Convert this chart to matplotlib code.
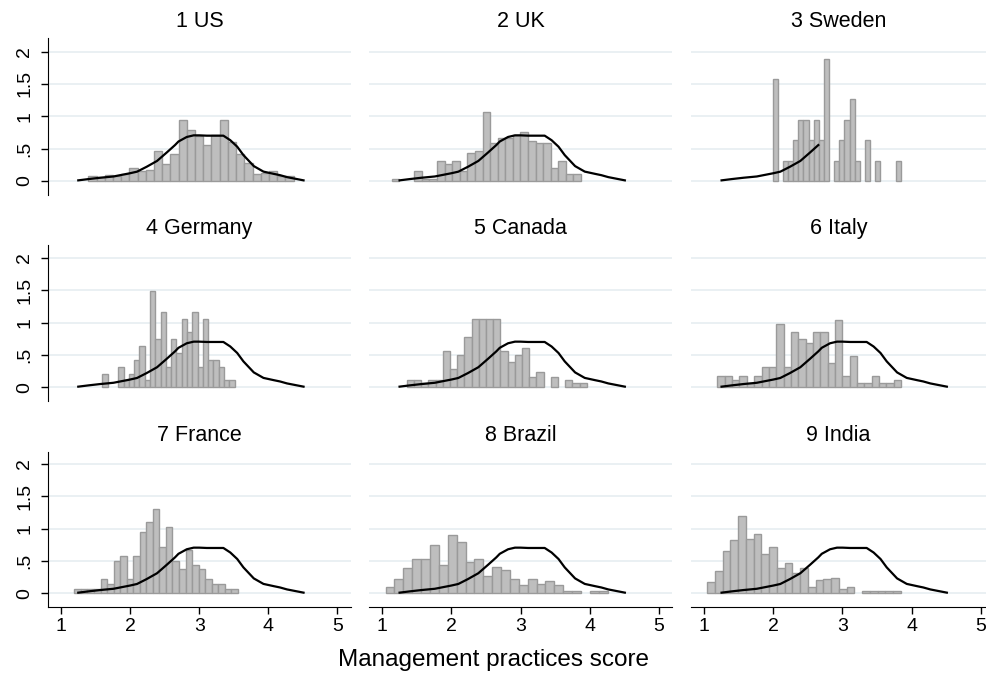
import numpy as np
import matplotlib
matplotlib.use('Agg')
import matplotlib.pyplot as plt

plt.rcParams['font.family'] = ['Liberation Sans', 'DejaVu Sans']

## the data
countries = ['1 US', '2 UK', '3 Sweden', '4 Germany', '5 Canada', '6 Italy',
             '7 France', '8 Brazil', '9 India']

# histogram bins per country: first edge and bin width
bin_start = [1.396, 1.135, 1.99, 1.599, 1.353, 1.19, 1.193, 1.048, 1.043]
bin_width = [0.1188, 0.1096, 0.0742, 0.0765, 0.1043, 0.1063, 0.0947, 0.1285, 0.112]

us = [0.08, 0.06, 0.09, 0.07, 0.11, 0.2, 0.15, 0.17, 0.47, 0.27, 0.41, 0.94, 0.78,
      0.69, 0.55, 0.71, 0.94, 0.61, 0.41, 0.28, 0.11, 0.13, 0.16, 0.08, 0.08]
uk = [0.035, 0, 0, 0.15, 0.035, 0.035, 0.31, 0.27, 0.31, 0.15, 0.43, 0.47, 1.06,
      0.58, 0.67, 0.67, 0.71, 0.75, 0.62, 0.58, 0.58, 0.2, 0.31, 0.11, 0.11]
sweden = [1.57, 0, 0.31, 0.31, 0.63, 0.94, 0.94, 0.63, 0.94, 0.63, 1.89, 0, 0.31,
          0.63, 0.94, 1.26, 0.31, 0, 0.63, 0, 0.31, 0, 0, 0, 0.31]
germany = [0.21, 0, 0, 0.32, 0.11, 0.21, 0.42, 0.64, 0.11, 1.49, 0.74, 1.17, 0.32,
           0.74, 0.53, 1.06, 0.85, 1.17, 0.32, 1.06, 0.42, 0.42, 0.32, 0.11, 0.11]
canada = [0.11, 0.11, 0.06, 0.11, 0.11, 0.56, 0.28, 0.5, 0.78, 1.05, 1.05, 1.05, 1.05,
          0.56, 0.39, 0.5, 0.61, 0.16, 0.23, 0, 0.16, 0, 0.11, 0.06, 0.06]
italy = [0.18, 0.18, 0.12, 0.18, 0.06, 0.18, 0.31, 0.31, 0.98, 0.31, 0.86, 0.74, 0.68,
         0.86, 0.86, 0.37, 1.04, 0.18, 0.49, 0.06, 0.06, 0.18, 0.06, 0.06, 0.12]
france = [0.07, 0.07, 0.07, 0.07, 0.22, 0.15, 0.5, 0.58, 0.22, 0.58, 0.95, 1.1, 1.3,
          0.72, 1.02, 0.5, 0.37, 0.67, 0.43, 0.37, 0.22, 0.15, 0.15, 0.07, 0.07]
brazil = [0.09, 0.22, 0.39, 0.53, 0.53, 0.74, 0.44, 0.9, 0.79, 0.49, 0.53, 0.27, 0.41,
          0.36, 0.22, 0.13, 0.22, 0.15, 0.19, 0.13, 0.03, 0.03, 0, 0.03, 0.03]
india = [0.18, 0.35, 0.65, 0.82, 1.2, 0.84, 0.91, 0.6, 0.71, 0.39, 0.47, 0.32, 0.39,
         0.09, 0.2, 0.22, 0.24, 0.07, 0.09, 0, 0.04, 0.04, 0.04, 0.04, 0.04]
heights = [us, uk, sweden, germany, canada, italy, france, brazil, india]

# US kernel density, drawn in every panel
dens_x = [1.25, 1.4, 1.565, 1.76, 2.0, 2.1, 2.24, 2.39, 2.53, 2.65, 2.7, 2.82, 2.92,
          3.0, 3.11, 3.25, 3.35, 3.45, 3.55, 3.64, 3.79, 3.93, 4.08, 4.17, 4.27, 4.51]
dens_y = [0.01, 0.03, 0.05, 0.07, 0.12, 0.144, 0.22, 0.31, 0.44, 0.555, 0.61, 0.68,
          0.705, 0.705, 0.70, 0.70, 0.70, 0.63, 0.53, 0.40, 0.23, 0.145, 0.11, 0.09,
          0.06, 0.01]
sweden_cut = 2.65   # the curve stops here in the Sweden panel

yticks = [0, 0.5, 1, 1.5, 2]
yticklabels = ['0', '.5', '1', '1.5', '2']
xticks = [1, 2, 3, 4, 5]

## layout in pixels
W, H = 986, 683
col_left = [48.3, 369.3, 690.7]
col_right = [350.7, 671.7, 986]
col_one = [61, 382.3, 704.3]      # pixel of x = 1
xs = 69.1
row_top = [38.3, 245, 451.7]
row_bot = [195, 400.8, 606.7]
row_zero = [181, 387.3, 593.3]    # pixel of y = 0
ys = 64.75

fig = plt.figure(figsize=(W / 100, H / 100), dpi=100)

dx = np.array(dens_x)
dy = np.array(dens_y)

for k in range(9):
    r, c = divmod(k, 3)
    L, R, T, B = col_left[c], col_right[c], row_top[r], row_bot[r]
    ax = fig.add_axes([L / W, 1 - B / H, (R - L) / W, (B - T) / H])
    ax.set_xlim(1 + (L - col_one[c]) / xs, 1 + (R - col_one[c]) / xs)
    ax.set_ylim(-(B - row_zero[r]) / ys, (row_zero[r] - T) / ys)

    for g in yticks:
        ax.axhline(g, color='#e6eef1', lw=1.2, zorder=0)

    h = np.array(heights[k])
    left = bin_start[k] + bin_width[k] * np.arange(len(h))
    nz = h > 0   # empty bins are not drawn
    ax.bar(left[nz], h[nz], bin_width[k], align='edge', color='#bebebe',
           edgecolor='#9a9a9a', linewidth=1.0, zorder=2)

    if k == 2:
        keep = dx <= sweden_cut
        ax.plot(dx[keep], dy[keep], color='black', lw=1.6, zorder=3)
    else:
        ax.plot(dx, dy, color='black', lw=1.6, zorder=3)

    ax.set_title(countries[k], fontsize=15.5, pad=8)

    for s in ['top', 'right']:
        ax.spines[s].set_visible(False)
    ax.spines['left'].set_visible(c == 0)
    ax.spines['bottom'].set_visible(r == 2)

    if c == 0:
        ax.set_yticks(yticks)
        ax.set_yticklabels(yticklabels, rotation=90, va='center', fontsize=14)
        ax.tick_params(axis='y', length=5, width=1, pad=6)
    else:
        ax.set_yticks([])
    if r == 2:
        ax.set_xticks(xticks)
        ax.set_xticklabels([str(t) for t in xticks], fontsize=14)
        ax.tick_params(axis='x', length=5, width=1, pad=3)
    else:
        ax.set_xticks([])

fig.text(493 / W, 1 - 660 / H, 'Management practices score', ha='center',
         va='center', fontsize=17.5)

fig.savefig('out.png', dpi=100)
